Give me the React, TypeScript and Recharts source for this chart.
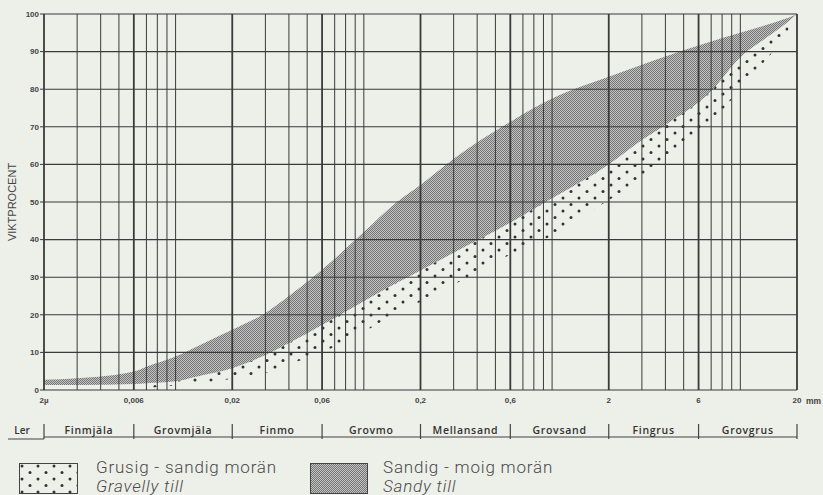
import { ComposedChart, Area, XAxis, YAxis, ReferenceLine } from 'recharts';

// grain size (mm) and the two till envelopes (% by weight passing)
const sizes = [0.002, 0.003, 0.006, 0.007, 0.01, 0.013, 0.02, 0.03, 0.04, 0.06, 0.1, 0.15, 0.2, 0.3, 0.6, 1, 2, 3, 4, 7, 10, 15, 18, 20];
const sandyUpper = [2.7, 3.1, 4.9, 6.2, 8.9, 11.6, 16, 20.5, 25, 32, 42, 50, 54.5, 61.5, 71.3, 77.5, 83.3, 86.5, 88.7, 92.7, 95, 97.7, 99, 100];
const sandyLower = [1.3, 1.3, 1.6, 1.8, 2.3, 3.6, 5.8, 9.3, 12.5, 17.3, 23.6, 28.5, 31.8, 36.5, 44.5, 51, 60, 66.5, 70.5, 79.5, 88.5, 95, 98, 100];
const gravellyLower = [null, null, null, 0.5, 1.2, 1.8, 3, 4.5, 6.8, 10, 15.5, 20.5, 23.5, 28, 36, 41, 50.5, 56, 61, 71, 80, 90, 94, null];

const majorTicks = [0.002, 0.006, 0.02, 0.06, 0.2, 0.6, 2, 6, 20];
const majorLabels = ['2µ', '0,006', '0,02', '0,06', '0,2', '0,6', '2', '6', '20'];
const classNames = ['Finmjäla', 'Grovmjäla', 'Finmo', 'Grovmo', 'Mellansand', 'Grovsand', 'Fingrus', 'Grovgrus'];
const yTicks = [0, 10, 20, 30, 40, 50, 60, 70, 80, 90, 100];

const W = 823;
const H = 495;
const INK = '#3a3a3a';

// log paper: 1..9 x 10^k
const minorGrid: number[] = [];
[0.001, 0.01, 0.1, 1, 10].forEach((d) => {
    for (let m = 1; m <= 9; m++) {
        const v = +(m * d).toPrecision(3);
        if (v > 0.002 && v < 20 && !majorTicks.includes(v)) minorGrid.push(v);
    }
});
const classMids = classNames.map((_, i) => Math.sqrt(majorTicks[i] * majorTicks[i + 1]));

function SizeTick(props: any) {
    const { x, y, payload } = props;
    const i = majorTicks.indexOf(payload.value);
    const lbl = majorLabels[i];
    return (
        <g>
            <text x={x} y={y + 8} textAnchor="middle" dominantBaseline="central"
                fontFamily="Liberation Sans, Arial, sans-serif" fontWeight="bold" fontSize={8} fill="#444">
                {lbl}
            </text>
            {lbl === '20' && (
                <text x={x + 9} y={y + 9} dominantBaseline="central"
                    fontFamily="Liberation Sans, Arial, sans-serif" fontWeight="bold" fontSize={8.5} fill="#444">
                    mm
                </text>
            )}
            <line x1={x} x2={x} y1={y + 32} y2={y + 47} stroke="#444" strokeWidth={1.2} />
            {i === 0 && (
                <>
                    <line x1={8} x2={x} y1={y + 47} y2={y + 47} stroke="#444" strokeWidth={1.2} />
                    <text x={x - 22} y={y + 38} textAnchor="middle" dominantBaseline="central"
                        fontFamily="Open Sans, sans-serif" fontWeight={600} fontSize={10} fill="#333">
                        Ler
                    </text>
                </>
            )}
        </g>
    );
}

function ClassTick(props: any) {
    const { x, y, index } = props;
    return (
        <text x={x} y={y - 9} textAnchor="middle" dominantBaseline="central"
            fontFamily="Open Sans, sans-serif" fontWeight={600} fontSize={10.5} letterSpacing={0.7} fill="#333">
            {classNames[index]}
        </text>
    );
}

const legendText: React.CSSProperties = {
    position: 'absolute',
    top: 458,
    fontFamily: 'Roboto, sans-serif',
    fontWeight: 300,
    fontSize: 17,
    lineHeight: '19px',
    letterSpacing: 0.8,
    color: '#4a4a4a',
    whiteSpace: 'nowrap',
};

export default function App() {
    const data = sizes.map((s, i) => ({
        size: s,
        sandy: [sandyLower[i], sandyUpper[i]],
        gravelly: gravellyLower[i] == null ? null : [gravellyLower[i], sandyLower[i]],
    }));

    return (
        <div style={{ position: 'absolute', left: 0, top: 0, width: W, height: H, background: '#edefe9', overflow: 'hidden' }}>
            <ComposedChart width={W} height={H} data={data} margin={{ top: 14, right: 0, bottom: 48, left: 0 }}>
                <defs>
                    <pattern id="hatch" patternUnits="userSpaceOnUse" width={2} height={2}>
                        <rect width={2} height={2} fill="#c2c2c2" />
                        <rect width={1} height={1} fill="#767676" />
                        <rect x={1} y={1} width={1} height={1} fill="#767676" />
                    </pattern>
                    <pattern id="dots" patternUnits="userSpaceOnUse" width={16} height={13}>
                        <circle cx={3} cy={3} r={1.5} fill="#333" />
                        <circle cx={11} cy={9.5} r={1.5} fill="#333" />
                    </pattern>
                </defs>
                <XAxis
                    dataKey="size"
                    type="number"
                    scale="log"
                    domain={[0.002, 20]}
                    allowDataOverflow
                    ticks={majorTicks}
                    interval={0}
                    height={47}
                    tickSize={0}
                    tickLine={false}
                    axisLine={false}
                    tick={(p: any) => <SizeTick {...p} />}
                />
                <XAxis
                    xAxisId="cls"
                    dataKey="size"
                    type="number"
                    scale="log"
                    domain={[0.002, 20]}
                    allowDataOverflow
                    ticks={classMids}
                    interval={0}
                    height={10}
                    tickSize={0}
                    tickLine={false}
                    axisLine={{ stroke: '#444', strokeWidth: 1.2 }}
                    tick={(p: any) => <ClassTick {...p} />}
                />
                <YAxis
                    type="number"
                    domain={[0, 100]}
                    ticks={yTicks}
                    interval={0}
                    width={44}
                    axisLine={false}
                    tickSize={4}
                    tickMargin={1}
                    tickLine={{ stroke: INK }}
                    tick={{ fill: '#444', fontSize: 8, fontWeight: 'bold', fontFamily: 'Liberation Sans, Arial, sans-serif' }}
                    label={{
                        value: 'VIKTPROCENT',
                        angle: -90,
                        position: 'center',
                        dx: -10,
                        fill: '#444',
                        fontSize: 11,
                        fontFamily: 'Liberation Sans, Arial, sans-serif',
                    }}
                />
                <YAxis
                    yAxisId="r"
                    orientation="right"
                    type="number"
                    domain={[0, 100]}
                    ticks={yTicks}
                    interval={0}
                    width={26}
                    axisLine={false}
                    tickSize={4}
                    tickMargin={2}
                    tickLine={{ stroke: INK }}
                    tick={{ fill: '#444', fontSize: 8, fontWeight: 'bold', fontFamily: 'Liberation Sans, Arial, sans-serif' }}
                />
                <Area
                    dataKey="sandy"
                    type="monotone"
                    stroke="none"
                    fill="url(#hatch)"
                    fillOpacity={1}
                    isAnimationActive={false}
                />
                <Area
                    dataKey="gravelly"
                    type="monotone"
                    stroke="none"
                    fill="url(#dots)"
                    fillOpacity={1}
                    isAnimationActive={false}
                />
                {yTicks.map((v) => (
                    <ReferenceLine key={'h' + v} y={v} stroke={INK} strokeWidth={1.1} />
                ))}
                {minorGrid.map((v) => (
                    <ReferenceLine key={'v' + v} x={v} stroke={INK} strokeWidth={1} />
                ))}
                {majorTicks.map((v) => (
                    <ReferenceLine key={'m' + v} x={v} stroke={INK} strokeWidth={1.8} />
                ))}
            </ComposedChart>

            {/* legend */}
            <svg style={{ position: 'absolute', left: 19, top: 463 }} width={59} height={31}>
                <rect x={0.5} y={0.5} width={58} height={30} fill="url(#dots)" stroke="#444" />
            </svg>
            <div style={{ ...legendText, left: 96 }}>
                Grusig - sandig morän
                <br />
                <i>Gravelly till</i>
            </div>
            <svg style={{ position: 'absolute', left: 310, top: 463 }} width={58} height={31}>
                <rect x={0.5} y={0.5} width={57} height={30} fill="url(#hatch)" stroke="#444" />
            </svg>
            <div style={{ ...legendText, left: 383 }}>
                Sandig - moig morän
                <br />
                <i>Sandy till</i>
            </div>
        </div>
    );
}
